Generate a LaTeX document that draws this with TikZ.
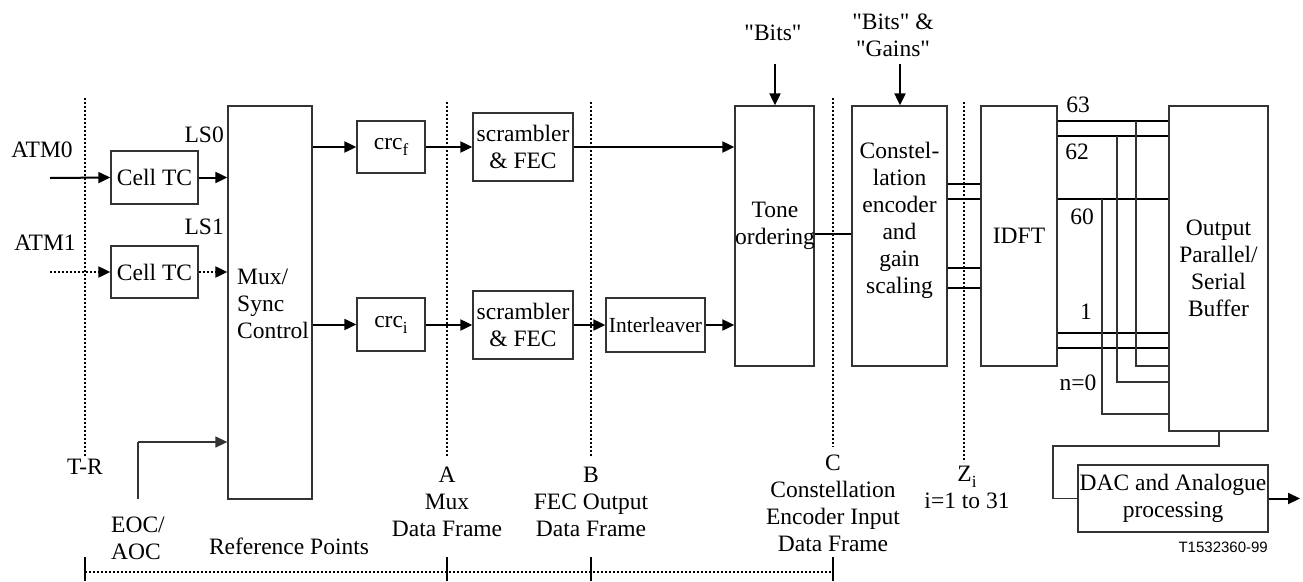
\documentclass[tikz,border=0pt]{standalone}
\usepackage{fontspec}
\setmainfont{Liberation Serif}[Ligatures=TeXOff]
\newfontfamily\labsans{Liberation Sans}
\usetikzlibrary{arrows.meta,calc}
\newcommand\mainfs{\fontsize{23.5}{27}\selectfont}
\newcommand\lowsub[1]{\raisebox{-0.55ex}{\fontsize{17}{17}\selectfont #1}}
\begin{document}
\begin{tikzpicture}[x=1pt,y=-1pt,
  box/.style={draw=black!80, line width=1.3pt, inner sep=0pt, align=center, font=\mainfs},
  txt/.style={inner sep=0pt, align=center, font=\mainfs},
  arr/.style={line width=2pt, -{Triangle[length=12pt,width=11pt]}},
  thinarr/.style={line width=1.3pt, draw=black!80, -{Triangle[length=12pt,width=11pt]}},
  thickln/.style={line width=2pt},
  thinln/.style={line width=1.3pt, draw=black!80},
  refl/.style={line width=1.6pt, dash pattern=on 2pt off 2pt},
  dotarr/.style={line width=2pt, dash pattern=on 2pt off 2pt, -{Triangle[length=12pt,width=11pt]}},
  tickln/.style={line width=2pt}
]
\useasboundingbox (0,0) rectangle (1303,581);

% ---- blocks
\node[box, minimum width=87pt, minimum height=53pt] (cell0) at (154.5,177.5) {Cell TC};
\node[box, minimum width=87pt, minimum height=52pt] (cell1) at (154.5,272) {Cell TC};
\node[box, minimum width=84pt, minimum height=393pt] (mux) at (270,302.5) {};
\node[txt, align=left, anchor=west] (muxtxt) at (237,303.5) {Mux/\\Sync\\Control};
\node[box, minimum width=68pt, minimum height=52pt] (crcf) at (391,147) {crc\lowsub{f}};
\node[box, minimum width=68pt, minimum height=53pt] (crci) at (391,324.5) {crc\lowsub{i}};
\node[box, minimum width=100pt, minimum height=68pt] (scr0) at (523,147) {scrambler\\\& FEC};
\node[box, minimum width=100pt, minimum height=68pt] (scr1) at (523,325) {scrambler\\\& FEC};
\node[box, minimum width=99pt, minimum height=54pt, font=\fontsize{21.5}{24}\selectfont] (intl) at (655.5,325) {Interleaver};
\node[box, minimum width=79pt, minimum height=260pt] (tone) at (774.5,236) {};
\node[txt] (tonetxt) at (775,226) {Tone\\ordering};
\node[box, minimum width=95pt, minimum height=260pt] (cons) at (899.5,236) {};
\node[txt] (constxt) at (899.5,220) {Constel-\\lation\\encoder\\and\\gain\\scaling};
\node[box, minimum width=76pt, minimum height=260pt] (idft) at (1019,236) {IDFT};
\node[box, minimum width=99pt, minimum height=325pt] (buf) at (1218.5,268.5) {Output\\Parallel/\\Serial\\Buffer};
\node[box, minimum width=190pt, minimum height=67pt] (dac) at (1173,498.5) {DAC and Analogue\\processing};

% ---- labels
\node[txt] (atm0) at (42,150) {ATM0};
\node[txt] (atm1) at (45,243) {ATM1};
\node[txt, anchor=east] (ls0) at (224,135) {LS0};
\node[txt, anchor=east] (ls1) at (224,227) {LS1};
\node[txt] (tr) at (85,467) {T-R};
\node[txt, align=left, anchor=west] (eoc) at (111,538.5) {EOC/\\AOC};
\node[txt] (refpts) at (289,546) {Reference Points};
\node[txt] (lblA) at (447,501.5) {A\\Mux\\Data Frame};
\node[txt] (lblB) at (591,501.5) {B\\FEC Output\\Data Frame};
\node[txt] (lblC) at (833,503) {C\\Constellation\\Encoder Input\\Data Frame};
\node[txt] (lblZ) at (967,487.5) {Z\lowsub{i}\\i=1 to 31};
\node[txt] (bits) at (773,33) {"Bits"};
\node[txt] (bitsg) at (893,35) {"Bits" \&\\"Gains"};
\node[txt] (n63) at (1078,105) {63};
\node[txt] (n62) at (1077,152) {62};
\node[txt] (n60) at (1082,217) {60};
\node[txt] (n1) at (1086,312) {1};
\node[txt] (n0) at (1078,383) {n=0};
\node[inner sep=0pt, font=\labsans\fontsize{15}{18}\selectfont, anchor=east] (figid) at (1268,547) {T1532360-99};

% ---- coordinates
\coordinate (atm0in) at (50,178);
\coordinate (atm1in) at (50,272);
\coordinate (eocS) at (138,499);
\coordinate (eocK) at (138,442);
\coordinate (bitsS) at (775,64);
\coordinate (bitsgS) at (900,64);
\coordinate (out) at (1300,498.5);
\coordinate (trT) at (85,98);   \coordinate (trB) at (85,457);
\coordinate (aT) at (447,102);  \coordinate (aB) at (447,457);
\coordinate (bT) at (591,102);  \coordinate (bB) at (591,457);
\coordinate (cT) at (833,98);   \coordinate (cB) at (833,447);
\coordinate (zT) at (964,102);  \coordinate (zB) at (964,462);
\coordinate (rl0) at (85,572);  \coordinate (rl1) at (833,572);
\coordinate (tk0a) at (85,557); \coordinate (tk0b) at (85,581);
\coordinate (tk1a) at (447,557); \coordinate (tk1b) at (447,581);
\coordinate (tk2a) at (591,557); \coordinate (tk2b) at (591,581);
\coordinate (tk3a) at (833,557); \coordinate (tk3b) at (833,581);

% ---- reference lines
\draw[refl] (trT) -- (trB);
\draw[refl] (aT) -- (aB);
\draw[refl] (bT) -- (bB);
\draw[refl] (cT) -- (cB);
\draw[refl] (zT) -- (zB);
\draw[refl] (rl0) -- (rl1);
\draw[tickln] (tk0a) -- (tk0b);
\draw[tickln] (tk1a) -- (tk1b);
\draw[tickln] (tk2a) -- (tk2b);
\draw[tickln] (tk3a) -- (tk3b);

% ---- connectors
\draw[arr] (atm0in) -- (cell0.west);
\draw[arr] (cell0.east) -- (mux.west |- cell0.east);
\draw[dotarr] (atm1in) -- (cell1.west);
\draw[dotarr] (cell1.east) -- (mux.west |- cell1.east);
\draw[thinln] (eocS) -- (eocK);
\draw[thinarr] (eocK) -- (mux.west |- eocK);
\draw[arr] (mux.east |- crcf.west) -- (crcf.west);
\draw[arr] (mux.east |- crci.west) -- (crci.west);
\draw[arr] (crcf.east) -- (scr0.west);
\draw[arr] (crci.east |- scr1.west) -- (scr1.west);
\draw[arr] (scr0.east) -- (tone.west |- scr0.east);
\draw[arr] (scr1.east) -- (intl.west |- scr1.east);
\draw[arr] (intl.east) -- (tone.west |- intl.east);
\draw[arr] (bitsS) -- (bitsS |- tone.north);
\draw[arr] (bitsgS) -- (bitsgS |- cons.north);
\draw[thickln] (tone.east |- 0,234) -- (cons.west |- 0,234);
\foreach \yy in {184,199,268,288}{
  \draw[thickln] (cons.east |- 0,\yy) -- (idft.west |- 0,\yy);
}
\foreach \yy in {121,136,199,333,348}{
  \draw[thickln] (idft.east |- 0,\yy) -- (buf.west |- 0,\yy);
}
\draw[thinln] (1136,121) -- (1136,366) -- (buf.west |- 0,366);
\draw[thinln] (1117,136) -- (1117,382) -- (buf.west |- 0,382);
\draw[thinln] (1102,199) -- (1102,414) -- (buf.west |- 0,414);
\draw[thinln] (buf.south -| 1219,0) -- (1219,446) -- (1053,446) -- (1053,498.5) -- (dac.west);
\draw[arr] (dac.east) -- (out);
\end{tikzpicture}
\end{document}
